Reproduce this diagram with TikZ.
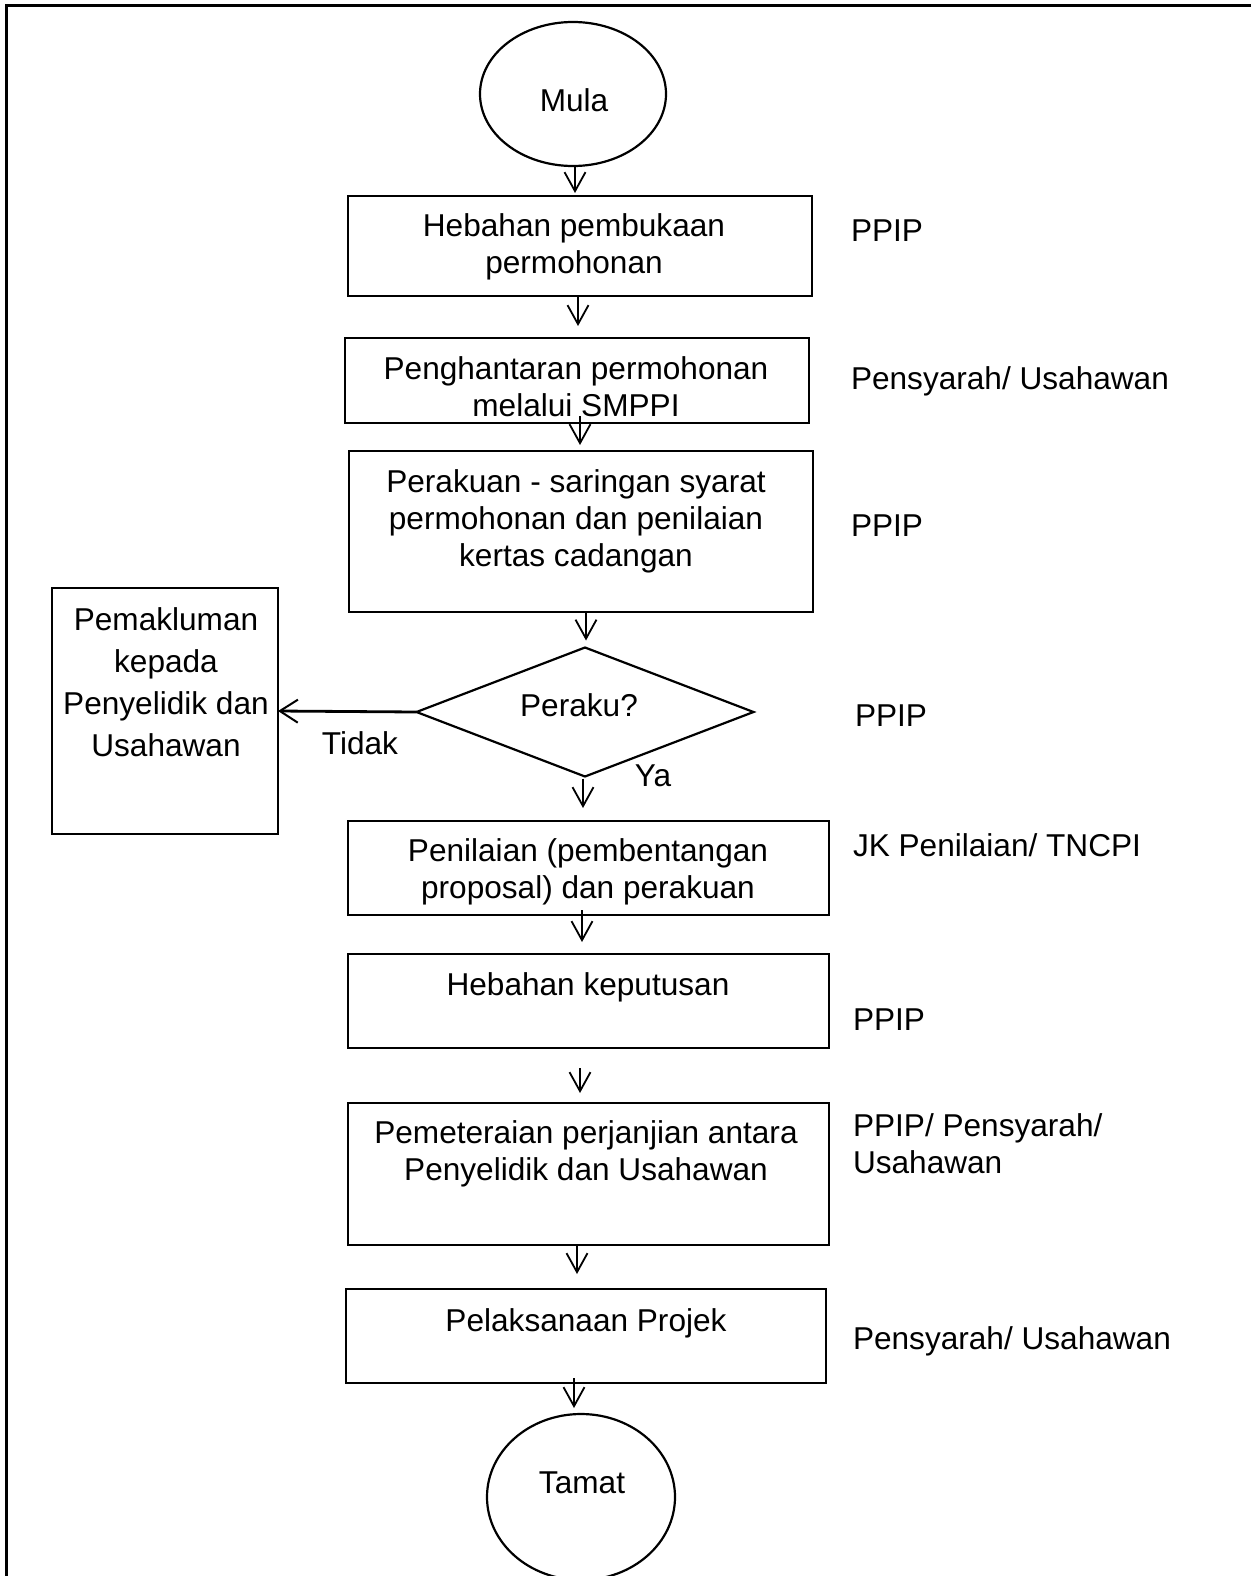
\documentclass[tikz,border=0pt]{standalone}
\usepackage{fontspec}
\setmainfont{Liberation Sans}
\usetikzlibrary{shapes.geometric,arrows.meta}
\tikzset{
  box/.style={draw, line width=2.2pt, rectangle, inner sep=0pt, outer sep=0pt},
  oval/.style={draw, line width=2.2pt, ellipse, inner sep=0pt, outer sep=0pt},
  decision/.style={draw, line width=2.2pt, diamond, aspect=2.6, inner sep=0pt, outer sep=0pt},
  arr/.style={line width=1.8pt, -{Straight Barb[length=19pt,width=21pt]}},
  arrthick/.style={line width=2.8pt, -{Straight Barb[length=18pt,width=23pt,line width=2pt]}},
  txt/.style={inner sep=0pt, outer sep=0pt, anchor=base, align=center,
    font=\fontsize{31.6pt}{36.6pt}\selectfont},
  txtl/.style={inner sep=0pt, outer sep=0pt, anchor=base west, align=left,
    font=\fontsize{31.6pt}{36.6pt}\selectfont},
  frame/.style={line width=3pt}
}
\begin{document}
\begin{tikzpicture}[x=1pt,y=-1pt]
\useasboundingbox (0,0) rectangle (1251,1576);
\fill[white] (0,0) rectangle (1251,1576);
% outer frame (right and bottom cropped)
\draw[frame] (1251,6) -- (6.5,6) -- (6.5,1576);

% shapes
\node[oval, minimum width=186pt, minimum height=144pt] (mula) at (573,94) {};
\node[box, minimum width=464pt, minimum height=100pt] (b1) at (580,246) {};
\node[box, minimum width=464pt, minimum height=85pt] (b2) at (577,380.5) {};
\node[box, minimum width=464pt, minimum height=161pt] (b3) at (581,531.5) {};
\node[decision, minimum width=337pt, minimum height=129pt] (dia) at (585,712) {};
\node[box, minimum width=226pt, minimum height=246pt] (lb) at (165,711) {};
\node[box, minimum width=481pt, minimum height=94pt] (b4) at (588.5,868) {};
\node[box, minimum width=481pt, minimum height=94pt] (b5) at (588.5,1001) {};
\node[box, minimum width=481pt, minimum height=142pt] (b6) at (588.5,1174) {};
\node[box, minimum width=480pt, minimum height=94pt] (b7) at (586,1336) {};
\node[oval, minimum width=188pt, minimum height=166pt] (tamat) at (581,1497) {};

% texts in shapes (base = baseline of last line)
\node[txt] (tmula) at (574,112) {Mula};
\node[txt] (t1) at (574,273) {Hebahan pembukaan\\permohonan};
\node[txt] (t2) at (576,416) {Penghantaran permohonan\\melalui SMPPI};
\node[txt] (t3) at (576,566) {Perakuan - saringan syarat\\permohonan dan penilaian\\kertas cadangan};
\node[txt] (tdia) at (579,716) {Peraku?};
\node[txt, font=\fontsize{31.6pt}{42pt}\selectfont] (tlb) at (166,756) {Pemakluman\\kepada\\Penyelidik dan\\Usahawan};
\node[txt] (t4) at (588,898) {Penilaian (pembentangan\\proposal) dan perakuan};
\node[txt] (t5) at (588,995) {Hebahan keputusan};
\node[txt] (t6) at (586,1180) {Pemeteraian perjanjian antara\\Penyelidik dan Usahawan};
\node[txt] (t7) at (586,1331) {Pelaksanaan Projek};
\node[txt] (ttamat) at (582,1493) {Tamat};

% branch labels
\node[txt] (tidak) at (360,754) {Tidak};
\node[txt] (ya) at (653,786) {Ya};

% right-hand labels
\node[txtl] (r1) at (851,241) {PPIP};
\node[txtl] (r2) at (851,389) {Pensyarah/ Usahawan};
\node[txtl] (r3) at (851,536) {PPIP};
\node[txtl] (r4) at (855,726) {PPIP};
\node[txtl] (r5) at (853,856) {JK Penilaian/ TNCPI};
\node[txtl] (r6) at (853,1030) {PPIP};
\node[txtl] (r7) at (853,1173) {PPIP/ Pensyarah/\\Usahawan};
\node[txtl] (r8) at (853,1349) {Pensyarah/ Usahawan};

% connectors
\draw[arr] ([xshift=2pt]mula.south) -- ([xshift=-5pt,yshift=3pt]b1.north);
\draw[arr] ([xshift=-2pt]b1.south) -- ([xshift=1pt,yshift=12pt]b2.north);
\draw[arr] ([xshift=3pt,yshift=7pt]b2.south) -- ([xshift=-1pt,yshift=6pt]b3.north);
\draw[arr] ([xshift=5pt]b3.south) -- ([xshift=1pt,yshift=7pt]dia.north);
\draw[arrthick] (dia.west) -- (lb.east);
\draw[arr] ([xshift=-2pt,yshift=-2pt]dia.south) -- ([xshift=-5.5pt,yshift=13pt]b4.north);
\draw[arr] ([xshift=-6.5pt,yshift=5pt]b4.south) -- ([xshift=-6.5pt,yshift=12pt]b5.north);
\draw[arr] ([xshift=-8.5pt,yshift=-20pt]b5.south) -- ([xshift=-8.5pt,yshift=10pt]b6.north);
\draw[arr] ([xshift=-11.5pt]b6.south) -- ([xshift=-9pt,yshift=15pt]b7.north);
\draw[arr] ([xshift=-12pt,yshift=5pt]b7.south) -- ([xshift=-7pt,yshift=6pt]tamat.north);
\end{tikzpicture}
\end{document}
